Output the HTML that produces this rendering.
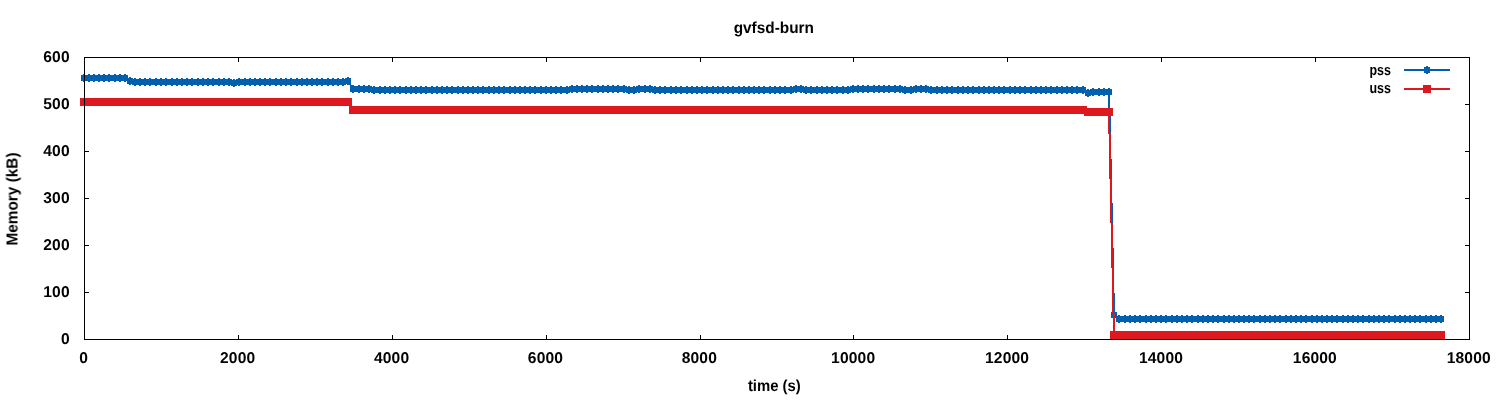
<!DOCTYPE html>
<html><head><meta charset="utf-8"><style>
html,body{margin:0;padding:0;background:#fff;width:1500px;height:400px;overflow:hidden}
svg{display:block}
text{-webkit-font-smoothing:antialiased}
</style></head><body>
<svg width="1500" height="400" viewBox="0 0 1500 400">
<rect width="1500" height="400" fill="#fff"/>
<path d="M84,335h1v4h-1zM84,58h1v4h-1zM238,335h1v4h-1zM238,58h1v4h-1zM392,335h1v4h-1zM392,58h1v4h-1zM546,335h1v4h-1zM546,58h1v4h-1zM700,335h1v4h-1zM700,58h1v4h-1zM853,335h1v4h-1zM853,58h1v4h-1zM1007,335h1v4h-1zM1007,58h1v4h-1zM1161,335h1v4h-1zM1161,58h1v4h-1zM1315,335h1v4h-1zM1315,58h1v4h-1zM1469,335h1v4h-1zM1469,58h1v4h-1zM85,339h4v1h-4zM1465,339h4v1h-4zM85,292h4v1h-4zM1465,292h4v1h-4zM85,245h4v1h-4zM1465,245h4v1h-4zM85,198h4v1h-4zM1465,198h4v1h-4zM85,151h4v1h-4zM1465,151h4v1h-4zM85,104h4v1h-4zM1465,104h4v1h-4zM85,57h4v1h-4zM1465,57h4v1h-4z" fill="#000" shape-rendering="crispEdges"/>
<path d="M84,77h42v1h-42zM84,78h43v1h-43zM126,79h3v1h-3zM127,80h5v1h-5zM346,80h2v1h-2zM129,81h103v1h-103zM236,81h113v1h-113zM132,82h214v1h-214zM348,82h2v1h-2zM232,83h4v1h-4zM349,83h2v1h-2zM349,84h2v1h-2zM350,85h2v1h-2zM350,86h2v1h-2zM351,87h2v1h-2zM352,88h19v1h-19zM570,88h56v1h-56zM637,88h15v1h-15zM794,88h9v1h-9zM851,88h51v1h-51zM914,88h14v1h-14zM353,89h731v1h-731zM371,90h199v1h-199zM626,90h11v1h-11zM652,90h142v1h-142zM803,90h48v1h-48zM902,90h12v1h-12zM928,90h157v1h-157zM1084,91h3v1h-3zM1090,91h19v1h-19zM1085,92h25v1h-25zM1087,93h3v1h-3zM1108,93h2v1h-2zM1108,94h2v1h-2zM1108,95h2v1h-2zM1108,96h2v1h-2zM1108,97h2v1h-2zM1108,98h2v1h-2zM1108,99h2v1h-2zM1108,100h2v1h-2zM1108,101h2v1h-2zM1108,102h2v1h-2zM1108,103h2v1h-2zM1108,104h2v1h-2zM1108,105h2v1h-2zM1108,106h2v1h-2zM1108,107h2v1h-2zM1108,108h2v1h-2zM1108,109h2v1h-2zM1108,110h2v1h-2zM1108,111h2v1h-2zM1108,112h2v1h-2zM1108,113h2v1h-2zM1109,114h2v1h-2zM1109,115h2v1h-2zM1109,116h2v1h-2zM1109,117h2v1h-2zM1109,118h2v1h-2zM1109,119h2v1h-2zM1109,120h2v1h-2zM1109,121h2v1h-2zM1109,122h2v1h-2zM1109,123h2v1h-2zM1109,124h2v1h-2zM1109,125h2v1h-2zM1109,126h2v1h-2zM1109,127h2v1h-2zM1109,128h2v1h-2zM1109,129h2v1h-2zM1109,130h2v1h-2zM1109,131h2v1h-2zM1109,132h2v1h-2zM1109,133h2v1h-2zM1109,134h2v1h-2zM1109,135h2v1h-2zM1109,136h2v1h-2zM1109,137h2v1h-2zM1109,138h2v1h-2zM1109,139h2v1h-2zM1109,140h2v1h-2zM1109,141h2v1h-2zM1109,142h2v1h-2zM1109,143h2v1h-2zM1109,144h2v1h-2zM1109,145h2v1h-2zM1109,146h2v1h-2zM1109,147h2v1h-2zM1109,148h2v1h-2zM1109,149h2v1h-2zM1109,150h2v1h-2zM1109,151h2v1h-2zM1109,152h2v1h-2zM1109,153h2v1h-2zM1109,154h2v1h-2zM1109,155h2v1h-2zM1109,156h2v1h-2zM1109,157h2v1h-2zM1109,158h2v1h-2zM1110,159h2v1h-2zM1110,160h2v1h-2zM1110,161h2v1h-2zM1110,162h2v1h-2zM1110,163h2v1h-2zM1110,164h2v1h-2zM1110,165h2v1h-2zM1110,166h2v1h-2zM1110,167h2v1h-2zM1110,168h2v1h-2zM1110,169h2v1h-2zM1110,170h2v1h-2zM1110,171h2v1h-2zM1110,172h2v1h-2zM1110,173h2v1h-2zM1110,174h2v1h-2zM1110,175h2v1h-2zM1110,176h2v1h-2zM1110,177h2v1h-2zM1110,178h2v1h-2zM1110,179h2v1h-2zM1110,180h2v1h-2zM1110,181h2v1h-2zM1110,182h2v1h-2zM1110,183h2v1h-2zM1110,184h2v1h-2zM1110,185h2v1h-2zM1110,186h2v1h-2zM1110,187h2v1h-2zM1110,188h2v1h-2zM1110,189h2v1h-2zM1110,190h2v1h-2zM1110,191h2v1h-2zM1110,192h2v1h-2zM1110,193h2v1h-2zM1110,194h2v1h-2zM1110,195h2v1h-2zM1110,196h2v1h-2zM1110,197h2v1h-2zM1110,198h2v1h-2zM1110,199h2v1h-2zM1110,200h2v1h-2zM1110,201h2v1h-2zM1110,202h2v1h-2zM1111,203h2v1h-2zM1111,204h2v1h-2zM1111,205h2v1h-2zM1111,206h2v1h-2zM1111,207h2v1h-2zM1111,208h2v1h-2zM1111,209h2v1h-2zM1111,210h2v1h-2zM1111,211h2v1h-2zM1111,212h2v1h-2zM1111,213h2v1h-2zM1111,214h2v1h-2zM1111,215h2v1h-2zM1111,216h2v1h-2zM1111,217h2v1h-2zM1111,218h2v1h-2zM1111,219h2v1h-2zM1111,220h2v1h-2zM1111,221h2v1h-2zM1111,222h2v1h-2zM1111,223h2v1h-2zM1111,224h2v1h-2zM1111,225h2v1h-2zM1111,226h2v1h-2zM1111,227h2v1h-2zM1111,228h2v1h-2zM1111,229h2v1h-2zM1111,230h2v1h-2zM1111,231h2v1h-2zM1111,232h2v1h-2zM1111,233h2v1h-2zM1111,234h2v1h-2zM1111,235h2v1h-2zM1111,236h2v1h-2zM1111,237h2v1h-2zM1111,238h2v1h-2zM1111,239h2v1h-2zM1111,240h2v1h-2zM1111,241h2v1h-2zM1111,242h2v1h-2zM1111,243h2v1h-2zM1111,244h2v1h-2zM1111,245h2v1h-2zM1111,246h2v1h-2zM1111,247h2v1h-2zM1112,248h2v1h-2zM1112,249h2v1h-2zM1112,250h2v1h-2zM1112,251h2v1h-2zM1112,252h2v1h-2zM1112,253h2v1h-2zM1112,254h2v1h-2zM1112,255h2v1h-2zM1112,256h2v1h-2zM1112,257h2v1h-2zM1112,258h2v1h-2zM1112,259h2v1h-2zM1112,260h2v1h-2zM1112,261h2v1h-2zM1112,262h2v1h-2zM1112,263h2v1h-2zM1112,264h2v1h-2zM1112,265h2v1h-2zM1112,266h2v1h-2zM1112,267h2v1h-2zM1112,268h2v1h-2zM1112,269h2v1h-2zM1112,270h2v1h-2zM1112,271h2v1h-2zM1112,272h2v1h-2zM1112,273h2v1h-2zM1112,274h2v1h-2zM1112,275h2v1h-2zM1112,276h2v1h-2zM1112,277h2v1h-2zM1112,278h2v1h-2zM1112,279h2v1h-2zM1112,280h2v1h-2zM1112,281h2v1h-2zM1112,282h2v1h-2zM1112,283h2v1h-2zM1112,284h2v1h-2zM1112,285h2v1h-2zM1112,286h2v1h-2zM1112,287h2v1h-2zM1112,288h2v1h-2zM1112,289h2v1h-2zM1112,290h2v1h-2zM1112,291h2v1h-2zM1112,292h2v1h-2zM1113,293h2v1h-2zM1113,294h2v1h-2zM1113,295h2v1h-2zM1113,296h2v1h-2zM1113,297h2v1h-2zM1113,298h2v1h-2zM1113,299h2v1h-2zM1113,300h2v1h-2zM1113,301h2v1h-2zM1113,302h2v1h-2zM1113,303h2v1h-2zM1113,304h2v1h-2zM1113,305h2v1h-2zM1113,306h2v1h-2zM1113,307h2v1h-2zM1113,308h2v1h-2zM1113,309h2v1h-2zM1113,310h2v1h-2zM1113,311h2v1h-2zM1113,312h2v1h-2zM1113,313h2v1h-2zM1113,314h2v1h-2zM1114,315h2v1h-2zM1115,316h2v1h-2zM1116,317h2v1h-2zM1117,318h324v1h-324zM1118,319h323v1h-323z" fill="#0060ad" shape-rendering="crispEdges"/>
<path d="M81,75h6v6h-6zM83,74h2v8h-2zM86,75h6v6h-6zM88,74h2v8h-2zM91,75h6v6h-6zM93,74h2v8h-2zM96,75h6v6h-6zM98,74h2v8h-2zM101,75h6v6h-6zM103,74h2v8h-2zM106,75h6v6h-6zM108,74h2v8h-2zM112,75h6v6h-6zM114,74h2v8h-2zM117,75h6v6h-6zM119,74h2v8h-2zM122,75h6v6h-6zM124,74h2v8h-2zM127,78h6v6h-6zM129,77h2v8h-2zM132,79h6v6h-6zM134,78h2v8h-2zM137,79h6v6h-6zM139,78h2v8h-2zM142,79h6v6h-6zM144,78h2v8h-2zM147,79h6v6h-6zM149,78h2v8h-2zM153,79h6v6h-6zM155,78h2v8h-2zM158,79h6v6h-6zM160,78h2v8h-2zM163,79h6v6h-6zM165,78h2v8h-2zM169,79h6v6h-6zM171,78h2v8h-2zM174,79h6v6h-6zM176,78h2v8h-2zM179,79h6v6h-6zM181,78h2v8h-2zM184,79h6v6h-6zM186,78h2v8h-2zM189,79h6v6h-6zM191,78h2v8h-2zM195,79h6v6h-6zM197,78h2v8h-2zM200,79h6v6h-6zM202,78h2v8h-2zM205,79h6v6h-6zM207,78h2v8h-2zM210,79h6v6h-6zM212,78h2v8h-2zM216,79h6v6h-6zM218,78h2v8h-2zM221,79h6v6h-6zM223,78h2v8h-2zM226,79h6v6h-6zM228,78h2v8h-2zM231,80h6v6h-6zM233,79h2v8h-2zM236,79h6v6h-6zM238,78h2v8h-2zM242,79h6v6h-6zM244,78h2v8h-2zM247,79h6v6h-6zM249,78h2v8h-2zM252,79h6v6h-6zM254,78h2v8h-2zM257,79h6v6h-6zM259,78h2v8h-2zM262,79h6v6h-6zM264,78h2v8h-2zM267,79h6v6h-6zM269,78h2v8h-2zM273,79h6v6h-6zM275,78h2v8h-2zM278,79h6v6h-6zM280,78h2v8h-2zM283,79h6v6h-6zM285,78h2v8h-2zM288,79h6v6h-6zM290,78h2v8h-2zM294,79h6v6h-6zM296,78h2v8h-2zM299,79h6v6h-6zM301,78h2v8h-2zM304,79h6v6h-6zM306,78h2v8h-2zM309,79h6v6h-6zM311,78h2v8h-2zM314,79h6v6h-6zM316,78h2v8h-2zM319,79h6v6h-6zM321,78h2v8h-2zM325,79h6v6h-6zM327,78h2v8h-2zM330,79h6v6h-6zM332,78h2v8h-2zM335,79h6v6h-6zM337,78h2v8h-2zM340,79h6v6h-6zM342,78h2v8h-2zM345,78h6v6h-6zM347,77h2v8h-2zM350,86h6v6h-6zM352,85h2v8h-2zM356,86h6v6h-6zM358,85h2v8h-2zM361,86h6v6h-6zM363,85h2v8h-2zM366,86h6v6h-6zM368,85h2v8h-2zM371,87h6v6h-6zM373,86h2v8h-2zM377,87h6v6h-6zM379,86h2v8h-2zM382,87h6v6h-6zM384,86h2v8h-2zM387,87h6v6h-6zM389,86h2v8h-2zM392,87h6v6h-6zM394,86h2v8h-2zM397,87h6v6h-6zM399,86h2v8h-2zM403,87h6v6h-6zM405,86h2v8h-2zM408,87h6v6h-6zM410,86h2v8h-2zM413,87h6v6h-6zM415,86h2v8h-2zM418,87h6v6h-6zM420,86h2v8h-2zM423,87h6v6h-6zM425,86h2v8h-2zM429,87h6v6h-6zM431,86h2v8h-2zM434,87h6v6h-6zM436,86h2v8h-2zM439,87h6v6h-6zM441,86h2v8h-2zM444,87h6v6h-6zM446,86h2v8h-2zM449,87h6v6h-6zM451,86h2v8h-2zM455,87h6v6h-6zM457,86h2v8h-2zM460,87h6v6h-6zM462,86h2v8h-2zM465,87h6v6h-6zM467,86h2v8h-2zM470,87h6v6h-6zM472,86h2v8h-2zM475,87h6v6h-6zM477,86h2v8h-2zM480,87h6v6h-6zM482,86h2v8h-2zM486,87h6v6h-6zM488,86h2v8h-2zM491,87h6v6h-6zM493,86h2v8h-2zM496,87h6v6h-6zM498,86h2v8h-2zM501,87h6v6h-6zM503,86h2v8h-2zM507,87h6v6h-6zM509,86h2v8h-2zM512,87h6v6h-6zM514,86h2v8h-2zM517,87h6v6h-6zM519,86h2v8h-2zM522,87h6v6h-6zM524,86h2v8h-2zM527,87h6v6h-6zM529,86h2v8h-2zM532,87h6v6h-6zM534,86h2v8h-2zM538,87h6v6h-6zM540,86h2v8h-2zM543,87h6v6h-6zM545,86h2v8h-2zM548,87h6v6h-6zM550,86h2v8h-2zM553,87h6v6h-6zM555,86h2v8h-2zM558,87h6v6h-6zM560,86h2v8h-2zM564,87h6v6h-6zM566,86h2v8h-2zM569,86h6v6h-6zM571,85h2v8h-2zM574,86h6v6h-6zM576,85h2v8h-2zM579,86h6v6h-6zM581,85h2v8h-2zM584,86h6v6h-6zM586,85h2v8h-2zM589,86h6v6h-6zM591,85h2v8h-2zM595,86h6v6h-6zM597,85h2v8h-2zM600,86h6v6h-6zM602,85h2v8h-2zM605,86h6v6h-6zM607,85h2v8h-2zM610,86h6v6h-6zM612,85h2v8h-2zM615,86h6v6h-6zM617,85h2v8h-2zM621,86h6v6h-6zM623,85h2v8h-2zM626,87h6v6h-6zM628,86h2v8h-2zM631,87h6v6h-6zM633,86h2v8h-2zM636,86h6v6h-6zM638,85h2v8h-2zM642,86h6v6h-6zM644,85h2v8h-2zM647,86h6v6h-6zM649,85h2v8h-2zM652,87h6v6h-6zM654,86h2v8h-2zM657,87h6v6h-6zM659,86h2v8h-2zM662,87h6v6h-6zM664,86h2v8h-2zM668,87h6v6h-6zM670,86h2v8h-2zM673,87h6v6h-6zM675,86h2v8h-2zM678,87h6v6h-6zM680,86h2v8h-2zM684,87h6v6h-6zM686,86h2v8h-2zM689,87h6v6h-6zM691,86h2v8h-2zM694,87h6v6h-6zM696,86h2v8h-2zM699,87h6v6h-6zM701,86h2v8h-2zM704,87h6v6h-6zM706,86h2v8h-2zM710,87h6v6h-6zM712,86h2v8h-2zM715,87h6v6h-6zM717,86h2v8h-2zM720,87h6v6h-6zM722,86h2v8h-2zM725,87h6v6h-6zM727,86h2v8h-2zM730,87h6v6h-6zM732,86h2v8h-2zM736,87h6v6h-6zM738,86h2v8h-2zM741,87h6v6h-6zM743,86h2v8h-2zM746,87h6v6h-6zM748,86h2v8h-2zM751,87h6v6h-6zM753,86h2v8h-2zM756,87h6v6h-6zM758,86h2v8h-2zM761,87h6v6h-6zM763,86h2v8h-2zM767,87h6v6h-6zM769,86h2v8h-2zM772,87h6v6h-6zM774,86h2v8h-2zM777,87h6v6h-6zM779,86h2v8h-2zM782,87h6v6h-6zM784,86h2v8h-2zM788,87h6v6h-6zM790,86h2v8h-2zM793,86h6v6h-6zM795,85h2v8h-2zM798,86h6v6h-6zM800,85h2v8h-2zM803,87h6v6h-6zM805,86h2v8h-2zM808,87h6v6h-6zM810,86h2v8h-2zM814,87h6v6h-6zM816,86h2v8h-2zM819,87h6v6h-6zM821,86h2v8h-2zM824,87h6v6h-6zM826,86h2v8h-2zM829,87h6v6h-6zM831,86h2v8h-2zM834,87h6v6h-6zM836,86h2v8h-2zM840,87h6v6h-6zM842,86h2v8h-2zM845,87h6v6h-6zM847,86h2v8h-2zM850,86h6v6h-6zM852,85h2v8h-2zM855,86h6v6h-6zM857,85h2v8h-2zM860,86h6v6h-6zM862,85h2v8h-2zM865,86h6v6h-6zM867,85h2v8h-2zM871,86h6v6h-6zM873,85h2v8h-2zM876,86h6v6h-6zM878,85h2v8h-2zM881,86h6v6h-6zM883,85h2v8h-2zM886,86h6v6h-6zM888,85h2v8h-2zM892,86h6v6h-6zM894,85h2v8h-2zM897,86h6v6h-6zM899,85h2v8h-2zM902,87h6v6h-6zM904,86h2v8h-2zM908,87h6v6h-6zM910,86h2v8h-2zM913,86h6v6h-6zM915,85h2v8h-2zM918,86h6v6h-6zM920,85h2v8h-2zM923,86h6v6h-6zM925,85h2v8h-2zM928,87h6v6h-6zM930,86h2v8h-2zM934,87h6v6h-6zM936,86h2v8h-2zM939,87h6v6h-6zM941,86h2v8h-2zM944,87h6v6h-6zM946,86h2v8h-2zM949,87h6v6h-6zM951,86h2v8h-2zM955,87h6v6h-6zM957,86h2v8h-2zM960,87h6v6h-6zM962,86h2v8h-2zM965,87h6v6h-6zM967,86h2v8h-2zM970,87h6v6h-6zM972,86h2v8h-2zM976,87h6v6h-6zM978,86h2v8h-2zM981,87h6v6h-6zM983,86h2v8h-2zM986,87h6v6h-6zM988,86h2v8h-2zM991,87h6v6h-6zM993,86h2v8h-2zM996,87h6v6h-6zM998,86h2v8h-2zM1001,87h6v6h-6zM1003,86h2v8h-2zM1007,87h6v6h-6zM1009,86h2v8h-2zM1012,87h6v6h-6zM1014,86h2v8h-2zM1017,87h6v6h-6zM1019,86h2v8h-2zM1022,87h6v6h-6zM1024,86h2v8h-2zM1028,87h6v6h-6zM1030,86h2v8h-2zM1033,87h6v6h-6zM1035,86h2v8h-2zM1038,87h6v6h-6zM1040,86h2v8h-2zM1043,87h6v6h-6zM1045,86h2v8h-2zM1048,87h6v6h-6zM1050,86h2v8h-2zM1054,87h6v6h-6zM1056,86h2v8h-2zM1059,87h6v6h-6zM1061,86h2v8h-2zM1064,87h6v6h-6zM1066,86h2v8h-2zM1069,87h6v6h-6zM1071,86h2v8h-2zM1074,87h6v6h-6zM1076,86h2v8h-2zM1080,87h6v6h-6zM1082,86h2v8h-2zM1085,90h6v6h-6zM1087,89h2v8h-2zM1090,89h6v6h-6zM1092,88h2v8h-2zM1096,89h6v6h-6zM1098,88h2v8h-2zM1101,89h6v6h-6zM1103,88h2v8h-2zM1106,89h6v6h-6zM1108,88h2v8h-2zM1111,312h6v6h-6zM1113,311h2v8h-2zM1116,316h6v6h-6zM1118,315h2v8h-2zM1122,316h6v6h-6zM1124,315h2v8h-2zM1127,316h6v6h-6zM1129,315h2v8h-2zM1132,316h6v6h-6zM1134,315h2v8h-2zM1137,316h6v6h-6zM1139,315h2v8h-2zM1143,316h6v6h-6zM1145,315h2v8h-2zM1148,316h6v6h-6zM1150,315h2v8h-2zM1153,316h6v6h-6zM1155,315h2v8h-2zM1158,316h6v6h-6zM1160,315h2v8h-2zM1163,316h6v6h-6zM1165,315h2v8h-2zM1169,316h6v6h-6zM1171,315h2v8h-2zM1174,316h6v6h-6zM1176,315h2v8h-2zM1179,316h6v6h-6zM1181,315h2v8h-2zM1184,316h6v6h-6zM1186,315h2v8h-2zM1189,316h6v6h-6zM1191,315h2v8h-2zM1195,316h6v6h-6zM1197,315h2v8h-2zM1200,316h6v6h-6zM1202,315h2v8h-2zM1205,316h6v6h-6zM1207,315h2v8h-2zM1210,316h6v6h-6zM1212,315h2v8h-2zM1215,316h6v6h-6zM1217,315h2v8h-2zM1221,316h6v6h-6zM1223,315h2v8h-2zM1226,316h6v6h-6zM1228,315h2v8h-2zM1231,316h6v6h-6zM1233,315h2v8h-2zM1236,316h6v6h-6zM1238,315h2v8h-2zM1241,316h6v6h-6zM1243,315h2v8h-2zM1246,316h6v6h-6zM1248,315h2v8h-2zM1251,316h6v6h-6zM1253,315h2v8h-2zM1257,316h6v6h-6zM1259,315h2v8h-2zM1262,316h6v6h-6zM1264,315h2v8h-2zM1267,316h6v6h-6zM1269,315h2v8h-2zM1272,316h6v6h-6zM1274,315h2v8h-2zM1277,316h6v6h-6zM1279,315h2v8h-2zM1283,316h6v6h-6zM1285,315h2v8h-2zM1288,316h6v6h-6zM1290,315h2v8h-2zM1293,316h6v6h-6zM1295,315h2v8h-2zM1298,316h6v6h-6zM1300,315h2v8h-2zM1303,316h6v6h-6zM1305,315h2v8h-2zM1309,316h6v6h-6zM1311,315h2v8h-2zM1314,316h6v6h-6zM1316,315h2v8h-2zM1319,316h6v6h-6zM1321,315h2v8h-2zM1324,316h6v6h-6zM1326,315h2v8h-2zM1329,316h6v6h-6zM1331,315h2v8h-2zM1334,316h6v6h-6zM1336,315h2v8h-2zM1340,316h6v6h-6zM1342,315h2v8h-2zM1345,316h6v6h-6zM1347,315h2v8h-2zM1350,316h6v6h-6zM1352,315h2v8h-2zM1355,316h6v6h-6zM1357,315h2v8h-2zM1360,316h6v6h-6zM1362,315h2v8h-2zM1366,316h6v6h-6zM1368,315h2v8h-2zM1371,316h6v6h-6zM1373,315h2v8h-2zM1376,316h6v6h-6zM1378,315h2v8h-2zM1381,316h6v6h-6zM1383,315h2v8h-2zM1386,316h6v6h-6zM1388,315h2v8h-2zM1392,316h6v6h-6zM1394,315h2v8h-2zM1397,316h6v6h-6zM1399,315h2v8h-2zM1402,316h6v6h-6zM1404,315h2v8h-2zM1407,316h6v6h-6zM1409,315h2v8h-2zM1412,316h6v6h-6zM1414,315h2v8h-2zM1417,316h6v6h-6zM1419,315h2v8h-2zM1423,316h6v6h-6zM1425,315h2v8h-2zM1428,316h6v6h-6zM1430,315h2v8h-2zM1433,316h6v6h-6zM1435,315h2v8h-2zM1438,316h6v6h-6zM1440,315h2v8h-2z" fill="#0060ad" shape-rendering="crispEdges"/>
<path d="M84,101h264v1h-264zM84,102h265v1h-265zM348,103h2v1h-2zM349,104h2v1h-2zM349,105h2v1h-2zM350,106h2v1h-2zM350,107h2v1h-2zM351,108h2v1h-2zM352,109h732v1h-732zM353,110h734v1h-734zM1084,111h25v1h-25zM1087,112h23v1h-23zM1108,113h2v1h-2zM1108,114h2v1h-2zM1108,115h2v1h-2zM1108,116h2v1h-2zM1108,117h2v1h-2zM1108,118h2v1h-2zM1108,119h2v1h-2zM1108,120h2v1h-2zM1108,121h2v1h-2zM1108,122h2v1h-2zM1108,123h2v1h-2zM1108,124h2v1h-2zM1108,125h2v1h-2zM1108,126h2v1h-2zM1108,127h2v1h-2zM1108,128h2v1h-2zM1108,129h2v1h-2zM1108,130h2v1h-2zM1108,131h2v1h-2zM1108,132h2v1h-2zM1108,133h2v1h-2zM1109,134h2v1h-2zM1109,135h2v1h-2zM1109,136h2v1h-2zM1109,137h2v1h-2zM1109,138h2v1h-2zM1109,139h2v1h-2zM1109,140h2v1h-2zM1109,141h2v1h-2zM1109,142h2v1h-2zM1109,143h2v1h-2zM1109,144h2v1h-2zM1109,145h2v1h-2zM1109,146h2v1h-2zM1109,147h2v1h-2zM1109,148h2v1h-2zM1109,149h2v1h-2zM1109,150h2v1h-2zM1109,151h2v1h-2zM1109,152h2v1h-2zM1109,153h2v1h-2zM1109,154h2v1h-2zM1109,155h2v1h-2zM1109,156h2v1h-2zM1109,157h2v1h-2zM1109,158h2v1h-2zM1109,159h2v1h-2zM1109,160h2v1h-2zM1109,161h2v1h-2zM1109,162h2v1h-2zM1109,163h2v1h-2zM1109,164h2v1h-2zM1109,165h2v1h-2zM1109,166h2v1h-2zM1109,167h2v1h-2zM1109,168h2v1h-2zM1109,169h2v1h-2zM1109,170h2v1h-2zM1109,171h2v1h-2zM1109,172h2v1h-2zM1109,173h2v1h-2zM1109,174h2v1h-2zM1109,175h2v1h-2zM1109,176h2v1h-2zM1109,177h2v1h-2zM1109,178h2v1h-2zM1110,179h2v1h-2zM1110,180h2v1h-2zM1110,181h2v1h-2zM1110,182h2v1h-2zM1110,183h2v1h-2zM1110,184h2v1h-2zM1110,185h2v1h-2zM1110,186h2v1h-2zM1110,187h2v1h-2zM1110,188h2v1h-2zM1110,189h2v1h-2zM1110,190h2v1h-2zM1110,191h2v1h-2zM1110,192h2v1h-2zM1110,193h2v1h-2zM1110,194h2v1h-2zM1110,195h2v1h-2zM1110,196h2v1h-2zM1110,197h2v1h-2zM1110,198h2v1h-2zM1110,199h2v1h-2zM1110,200h2v1h-2zM1110,201h2v1h-2zM1110,202h2v1h-2zM1110,203h2v1h-2zM1110,204h2v1h-2zM1110,205h2v1h-2zM1110,206h2v1h-2zM1110,207h2v1h-2zM1110,208h2v1h-2zM1110,209h2v1h-2zM1110,210h2v1h-2zM1110,211h2v1h-2zM1110,212h2v1h-2zM1110,213h2v1h-2zM1110,214h2v1h-2zM1110,215h2v1h-2zM1110,216h2v1h-2zM1110,217h2v1h-2zM1110,218h2v1h-2zM1110,219h2v1h-2zM1110,220h2v1h-2zM1110,221h2v1h-2zM1110,222h2v1h-2zM1111,223h2v1h-2zM1111,224h2v1h-2zM1111,225h2v1h-2zM1111,226h2v1h-2zM1111,227h2v1h-2zM1111,228h2v1h-2zM1111,229h2v1h-2zM1111,230h2v1h-2zM1111,231h2v1h-2zM1111,232h2v1h-2zM1111,233h2v1h-2zM1111,234h2v1h-2zM1111,235h2v1h-2zM1111,236h2v1h-2zM1111,237h2v1h-2zM1111,238h2v1h-2zM1111,239h2v1h-2zM1111,240h2v1h-2zM1111,241h2v1h-2zM1111,242h2v1h-2zM1111,243h2v1h-2zM1111,244h2v1h-2zM1111,245h2v1h-2zM1111,246h2v1h-2zM1111,247h2v1h-2zM1111,248h2v1h-2zM1111,249h2v1h-2zM1111,250h2v1h-2zM1111,251h2v1h-2zM1111,252h2v1h-2zM1111,253h2v1h-2zM1111,254h2v1h-2zM1111,255h2v1h-2zM1111,256h2v1h-2zM1111,257h2v1h-2zM1111,258h2v1h-2zM1111,259h2v1h-2zM1111,260h2v1h-2zM1111,261h2v1h-2zM1111,262h2v1h-2zM1111,263h2v1h-2zM1111,264h2v1h-2zM1111,265h2v1h-2zM1111,266h2v1h-2zM1111,267h2v1h-2zM1112,268h2v1h-2zM1112,269h2v1h-2zM1112,270h2v1h-2zM1112,271h2v1h-2zM1112,272h2v1h-2zM1112,273h2v1h-2zM1112,274h2v1h-2zM1112,275h2v1h-2zM1112,276h2v1h-2zM1112,277h2v1h-2zM1112,278h2v1h-2zM1112,279h2v1h-2zM1112,280h2v1h-2zM1112,281h2v1h-2zM1112,282h2v1h-2zM1112,283h2v1h-2zM1112,284h2v1h-2zM1112,285h2v1h-2zM1112,286h2v1h-2zM1112,287h2v1h-2zM1112,288h2v1h-2zM1112,289h2v1h-2zM1112,290h2v1h-2zM1112,291h2v1h-2zM1112,292h2v1h-2zM1112,293h2v1h-2zM1112,294h2v1h-2zM1112,295h2v1h-2zM1112,296h2v1h-2zM1112,297h2v1h-2zM1112,298h2v1h-2zM1112,299h2v1h-2zM1112,300h2v1h-2zM1112,301h2v1h-2zM1112,302h2v1h-2zM1112,303h2v1h-2zM1112,304h2v1h-2zM1112,305h2v1h-2zM1112,306h2v1h-2zM1112,307h2v1h-2zM1112,308h2v1h-2zM1112,309h2v1h-2zM1112,310h2v1h-2zM1112,311h2v1h-2zM1112,312h2v1h-2zM1113,313h2v1h-2zM1113,314h2v1h-2zM1113,315h2v1h-2zM1113,316h2v1h-2zM1113,317h2v1h-2zM1113,318h2v1h-2zM1113,319h2v1h-2zM1113,320h2v1h-2zM1113,321h2v1h-2zM1113,322h2v1h-2zM1113,323h2v1h-2zM1113,324h2v1h-2zM1113,325h2v1h-2zM1113,326h2v1h-2zM1113,327h2v1h-2zM1113,328h2v1h-2zM1113,329h2v1h-2zM1113,330h2v1h-2zM1113,331h2v1h-2zM1113,332h2v1h-2zM1113,333h2v1h-2zM1113,334h328v1h-328zM1114,335h327v1h-327z" fill="#dd181f" shape-rendering="crispEdges"/>
<path d="M80,98h8v8h-8zM85,98h8v8h-8zM90,98h8v8h-8zM95,98h8v8h-8zM100,98h8v8h-8zM105,98h8v8h-8zM111,98h8v8h-8zM116,98h8v8h-8zM121,98h8v8h-8zM126,98h8v8h-8zM131,98h8v8h-8zM136,98h8v8h-8zM141,98h8v8h-8zM146,98h8v8h-8zM152,98h8v8h-8zM157,98h8v8h-8zM162,98h8v8h-8zM168,98h8v8h-8zM173,98h8v8h-8zM178,98h8v8h-8zM183,98h8v8h-8zM188,98h8v8h-8zM194,98h8v8h-8zM199,98h8v8h-8zM204,98h8v8h-8zM209,98h8v8h-8zM215,98h8v8h-8zM220,98h8v8h-8zM225,98h8v8h-8zM230,98h8v8h-8zM235,98h8v8h-8zM241,98h8v8h-8zM246,98h8v8h-8zM251,98h8v8h-8zM256,98h8v8h-8zM261,98h8v8h-8zM266,98h8v8h-8zM272,98h8v8h-8zM277,98h8v8h-8zM282,98h8v8h-8zM287,98h8v8h-8zM293,98h8v8h-8zM298,98h8v8h-8zM303,98h8v8h-8zM308,98h8v8h-8zM313,98h8v8h-8zM318,98h8v8h-8zM324,98h8v8h-8zM329,98h8v8h-8zM334,98h8v8h-8zM339,98h8v8h-8zM344,98h8v8h-8zM349,106h8v8h-8zM355,106h8v8h-8zM360,106h8v8h-8zM365,106h8v8h-8zM370,106h8v8h-8zM376,106h8v8h-8zM381,106h8v8h-8zM386,106h8v8h-8zM391,106h8v8h-8zM396,106h8v8h-8zM402,106h8v8h-8zM407,106h8v8h-8zM412,106h8v8h-8zM417,106h8v8h-8zM422,106h8v8h-8zM428,106h8v8h-8zM433,106h8v8h-8zM438,106h8v8h-8zM443,106h8v8h-8zM448,106h8v8h-8zM454,106h8v8h-8zM459,106h8v8h-8zM464,106h8v8h-8zM469,106h8v8h-8zM474,106h8v8h-8zM479,106h8v8h-8zM485,106h8v8h-8zM490,106h8v8h-8zM495,106h8v8h-8zM500,106h8v8h-8zM506,106h8v8h-8zM511,106h8v8h-8zM516,106h8v8h-8zM521,106h8v8h-8zM526,106h8v8h-8zM531,106h8v8h-8zM537,106h8v8h-8zM542,106h8v8h-8zM547,106h8v8h-8zM552,106h8v8h-8zM557,106h8v8h-8zM563,106h8v8h-8zM568,106h8v8h-8zM573,106h8v8h-8zM578,106h8v8h-8zM583,106h8v8h-8zM588,106h8v8h-8zM594,106h8v8h-8zM599,106h8v8h-8zM604,106h8v8h-8zM609,106h8v8h-8zM614,106h8v8h-8zM620,106h8v8h-8zM625,106h8v8h-8zM630,106h8v8h-8zM635,106h8v8h-8zM641,106h8v8h-8zM646,106h8v8h-8zM651,106h8v8h-8zM656,106h8v8h-8zM661,106h8v8h-8zM667,106h8v8h-8zM672,106h8v8h-8zM677,106h8v8h-8zM683,106h8v8h-8zM688,106h8v8h-8zM693,106h8v8h-8zM698,106h8v8h-8zM703,106h8v8h-8zM709,106h8v8h-8zM714,106h8v8h-8zM719,106h8v8h-8zM724,106h8v8h-8zM729,106h8v8h-8zM735,106h8v8h-8zM740,106h8v8h-8zM745,106h8v8h-8zM750,106h8v8h-8zM755,106h8v8h-8zM760,106h8v8h-8zM766,106h8v8h-8zM771,106h8v8h-8zM776,106h8v8h-8zM781,106h8v8h-8zM787,106h8v8h-8zM792,106h8v8h-8zM797,106h8v8h-8zM802,106h8v8h-8zM807,106h8v8h-8zM813,106h8v8h-8zM818,106h8v8h-8zM823,106h8v8h-8zM828,106h8v8h-8zM833,106h8v8h-8zM839,106h8v8h-8zM844,106h8v8h-8zM849,106h8v8h-8zM854,106h8v8h-8zM859,106h8v8h-8zM864,106h8v8h-8zM870,106h8v8h-8zM875,106h8v8h-8zM880,106h8v8h-8zM885,106h8v8h-8zM891,106h8v8h-8zM896,106h8v8h-8zM901,106h8v8h-8zM907,106h8v8h-8zM912,106h8v8h-8zM917,106h8v8h-8zM922,106h8v8h-8zM927,106h8v8h-8zM933,106h8v8h-8zM938,106h8v8h-8zM943,106h8v8h-8zM948,106h8v8h-8zM954,106h8v8h-8zM959,106h8v8h-8zM964,106h8v8h-8zM969,106h8v8h-8zM975,106h8v8h-8zM980,106h8v8h-8zM985,106h8v8h-8zM990,106h8v8h-8zM995,106h8v8h-8zM1000,106h8v8h-8zM1006,106h8v8h-8zM1011,106h8v8h-8zM1016,106h8v8h-8zM1021,106h8v8h-8zM1027,106h8v8h-8zM1032,106h8v8h-8zM1037,106h8v8h-8zM1042,106h8v8h-8zM1047,106h8v8h-8zM1053,106h8v8h-8zM1058,106h8v8h-8zM1063,106h8v8h-8zM1068,106h8v8h-8zM1073,106h8v8h-8zM1079,106h8v8h-8zM1084,108h8v8h-8zM1089,108h8v8h-8zM1095,108h8v8h-8zM1100,108h8v8h-8zM1105,108h8v8h-8zM1110,331h8v8h-8zM1115,331h8v8h-8zM1121,331h8v8h-8zM1126,331h8v8h-8zM1131,331h8v8h-8zM1136,331h8v8h-8zM1142,331h8v8h-8zM1147,331h8v8h-8zM1152,331h8v8h-8zM1157,331h8v8h-8zM1162,331h8v8h-8zM1168,331h8v8h-8zM1173,331h8v8h-8zM1178,331h8v8h-8zM1183,331h8v8h-8zM1188,331h8v8h-8zM1194,331h8v8h-8zM1199,331h8v8h-8zM1204,331h8v8h-8zM1209,331h8v8h-8zM1214,331h8v8h-8zM1220,331h8v8h-8zM1225,331h8v8h-8zM1230,331h8v8h-8zM1235,331h8v8h-8zM1240,331h8v8h-8zM1245,331h8v8h-8zM1250,331h8v8h-8zM1256,331h8v8h-8zM1261,331h8v8h-8zM1266,331h8v8h-8zM1271,331h8v8h-8zM1276,331h8v8h-8zM1282,331h8v8h-8zM1287,331h8v8h-8zM1292,331h8v8h-8zM1297,331h8v8h-8zM1302,331h8v8h-8zM1308,331h8v8h-8zM1313,331h8v8h-8zM1318,331h8v8h-8zM1323,331h8v8h-8zM1328,331h8v8h-8zM1333,331h8v8h-8zM1339,331h8v8h-8zM1344,331h8v8h-8zM1349,331h8v8h-8zM1354,331h8v8h-8zM1359,331h8v8h-8zM1365,331h8v8h-8zM1370,331h8v8h-8zM1375,331h8v8h-8zM1380,331h8v8h-8zM1385,331h8v8h-8zM1391,331h8v8h-8zM1396,331h8v8h-8zM1401,331h8v8h-8zM1406,331h8v8h-8zM1411,331h8v8h-8zM1416,331h8v8h-8zM1422,331h8v8h-8zM1427,331h8v8h-8zM1432,331h8v8h-8zM1437,331h8v8h-8z" fill="#dd181f" shape-rendering="crispEdges"/>
<path d="M84,57h1386v1h-1386zM84,339h1386v1h-1386zM84,57h1v283h-1zM1469,57h1v283h-1z" fill="#000" shape-rendering="crispEdges"/>
<g font-family="Liberation Sans, sans-serif" font-weight="bold" font-size="16" fill="#000" opacity="0.999" text-rendering="geometricPrecision"><text x="83.7" y="363.3" text-anchor="middle" font-size="15.6" textLength="8.80" lengthAdjust="spacing">0</text><text x="237.6" y="363.3" text-anchor="middle" font-size="15.6" textLength="35.20" lengthAdjust="spacing">2000</text><text x="391.5" y="363.3" text-anchor="middle" font-size="15.6" textLength="35.20" lengthAdjust="spacing">4000</text><text x="545.4" y="363.3" text-anchor="middle" font-size="15.6" textLength="35.20" lengthAdjust="spacing">6000</text><text x="699.3" y="363.3" text-anchor="middle" font-size="15.6" textLength="35.20" lengthAdjust="spacing">8000</text><text x="853.1" y="363.3" text-anchor="middle" font-size="15.6" textLength="44.00" lengthAdjust="spacing">10000</text><text x="1007.0" y="363.3" text-anchor="middle" font-size="15.6" textLength="44.00" lengthAdjust="spacing">12000</text><text x="1160.9" y="363.3" text-anchor="middle" font-size="15.6" textLength="44.00" lengthAdjust="spacing">14000</text><text x="1314.8" y="363.3" text-anchor="middle" font-size="15.6" textLength="44.00" lengthAdjust="spacing">16000</text><text x="1468.7" y="363.3" text-anchor="middle" font-size="15.6" textLength="44.00" lengthAdjust="spacing">18000</text><text x="69.6" y="344.0" text-anchor="end" font-size="15.6" textLength="8.80" lengthAdjust="spacing">0</text><text x="69.6" y="297.0" text-anchor="end" font-size="15.6" textLength="26.40" lengthAdjust="spacing">100</text><text x="69.6" y="250.0" text-anchor="end" font-size="15.6" textLength="26.40" lengthAdjust="spacing">200</text><text x="69.6" y="203.0" text-anchor="end" font-size="15.6" textLength="26.40" lengthAdjust="spacing">300</text><text x="69.6" y="156.0" text-anchor="end" font-size="15.6" textLength="26.40" lengthAdjust="spacing">400</text><text x="69.6" y="109.0" text-anchor="end" font-size="15.6" textLength="26.40" lengthAdjust="spacing">500</text><text x="69.6" y="62.0" text-anchor="end" font-size="15.6" textLength="26.40" lengthAdjust="spacing">600</text><text x="773.8" y="33" text-anchor="middle" textLength="80.2" lengthAdjust="spacingAndGlyphs">gvfsd-burn</text><text x="774.35" y="390.6" text-anchor="middle" textLength="52.9" lengthAdjust="spacingAndGlyphs">time (s)</text><text transform="translate(17.5,199.05) rotate(-90)" text-anchor="middle" textLength="93.1" lengthAdjust="spacingAndGlyphs">Memory (kB)</text><text x="1391" y="75" text-anchor="end" font-size="15" textLength="21.5" lengthAdjust="spacingAndGlyphs">pss</text><text x="1391" y="93" text-anchor="end" font-size="15" textLength="21.5" lengthAdjust="spacingAndGlyphs">uss</text></g>
<path d="M1404,70H1450" stroke="#0060ad" stroke-width="2"/><path d="M1424,67h6v6h-6zM1426,66h2v8h-2z" fill="#0060ad" shape-rendering="crispEdges"/>
<path d="M1404,89H1450" stroke="#dd181f" stroke-width="2"/><path d="M1423,85h8v8h-8z" fill="#dd181f" shape-rendering="crispEdges"/>
</svg>
</body></html>
